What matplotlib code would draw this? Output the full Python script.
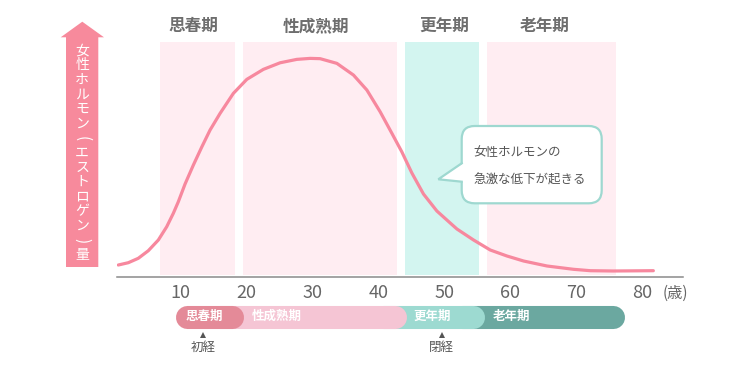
import matplotlib
matplotlib.use("Agg")
import matplotlib.pyplot as plt
from matplotlib.patches import FancyBboxPatch, Polygon
from matplotlib.transforms import blended_transform_factory

plt.rcParams['font.family'] = ['Noto Sans CJK JP', 'DejaVu Sans']

# ---------------- data ----------------
ages = [0.56, 2.08, 3.59, 5.11, 6.63, 7.90, 8.90, 9.66, 10.68, 11.94, 13.21,
        14.47, 15.99, 18.00, 20.04, 22.55, 25.09, 27.62, 29.64, 31.15, 33.69,
        36.21, 38.24, 40.25, 42.03, 43.55, 45.06, 46.82, 48.85, 50.87, 51.89,
        54.41, 56.94, 59.47, 61.99, 65.54, 69.57, 72.11, 75.60, 81.66]
hormone = [5.46, 6.51, 8.51, 11.97, 16.84, 22.89, 28.99, 34.27, 42.33, 50.98,
           59.17, 66.91, 74.51, 83.61, 89.99, 94.54, 97.54, 99.09, 99.54,
           99.41, 97.27, 91.94, 85.12, 75.24, 65.41, 56.90, 47.34, 37.78,
           30.04, 24.58, 21.85, 16.84, 12.29, 9.56, 7.28, 5.01, 3.50, 2.87,
           2.73, 2.87]

phases = ['思春期', '性成熟期', '更年期', '老年期']
band_start = [6.9, 19.4, 44.0, 56.5]
band_end = [18.3, 42.8, 55.3, 76.0]
band_colors = ['#ffedf2', '#ffedf2', '#d3f5f0', '#ffedf2']
header_x = [11.9, 30.5, 49.9, 65.2]

xticks = [10, 20, 30, 40, 50, 60, 70, 80]
xtick_labels = ['10', '20', '30', '40', '50', '60', '70', '80']

bar_start = 9.16
bar_end = [19.52, 44.2, 56.12, 77.23]
bar_colors = ['#e48a98', '#f5c5d4', '#9ddad1', '#6ba8a0']
bar_label_x = [13.56, 20.84, 45.26, 57.24]
bar_label_ha = ['center', 'left', 'left', 'left']

events = ['初経', '閉経']
event_age = [13.45, 49.6]

ylabel_text = '女性ホルモン(エストロゲン)量'
bubble_lines = ['女性ホルモンの', '急激な低下が起きる']

# ---------------- figure ----------------
W, H = 750, 374
fig = plt.figure(figsize=(W / 100, H / 100), dpi=100)

def fx(px):
    return px / W

def fy(py):
    return 1 - py / H

PINK = '#f7889e'
GRAY = '#6e6e6e'

ax = fig.add_axes([fx(117.3), fy(277), fx(683.3) - fx(117.3), fy(42) - fy(277)])
ax.set_xlim(0.41, 86.2)
ax.set_ylim(0, 107.0)

for s, e, c in zip(band_start, band_end, band_colors):
    ax.axvspan(s, e, ymin=0.009, ymax=1, color=c, lw=0, zorder=3)

ax.plot(ages, hormone, color=PINK, lw=2.3, solid_capstyle='round',
        solid_joinstyle='round', zorder=4)

for sp in ['top', 'left', 'right']:
    ax.spines[sp].set_visible(False)
ax.spines['bottom'].set_color('#8a8a8a')
ax.spines['bottom'].set_linewidth(1.1)
ax.set_yticks([])
ax.set_xticks(xticks)
ax.set_xticklabels(xtick_labels)
ax.tick_params(axis='x', which='major', length=0, pad=5, labelsize=13,
               labelcolor='#666666')
ax.set_xticks([10, 80], minor=True)
ax.tick_params(axis='x', which='minor', direction='in', length=6.5,
               width=0.8, color='#9a9a9a')

tr = blended_transform_factory(ax.transData, fig.transFigure)
for name, x in zip(phases, header_x):
    ax.text(x, fy(26), name, transform=tr, ha='center', va='center',
            fontsize=12, fontweight='bold', color=GRAY)

fig.text(fx(663), fy(293), '(歳)', ha='left', va='center', fontsize=11,
         color='#666666')

# ---------------- bottom phase bar ----------------
bx = fig.add_axes([fx(117.3), fy(362), fx(683.3) - fx(117.3), fy(300) - fy(362)])
bx.set_xlim(0.41, 86.2)
bx.set_ylim(362, 300)
bx.axis('off')
bx.patch.set_visible(False)

cap = 11.5 / 6.593
bar_y = 316.5
lefts = [bar_start] + [e - 3 * cap for e in bar_end[:-1]]
for i in reversed(range(len(bar_end))):
    l = lefts[i] + cap
    r = bar_end[i] - cap
    bx.plot([l, r], [bar_y, bar_y], color=bar_colors[i], lw=16.6,
            solid_capstyle='round', zorder=2 + (len(bar_end) - i))
for name, x, ha in zip(phases, bar_label_x, bar_label_ha):
    bx.text(x, bar_y, name, ha=ha, va='center', fontsize=9, fontweight='bold',
            color='white', zorder=10)
for name, x in zip(events, event_age):
    bx.plot([x], [335], marker='^', ms=5, color='#555555', mew=0, zorder=10)
    bx.text(x, 347.5, name, ha='center', va='center', fontsize=9,
            color='#555555')

# ---------------- overlay (arrow + bubble) ----------------
ov = fig.add_axes([0, 0, 1, 1])
ov.set_xlim(0, W)
ov.set_ylim(H, 0)
ov.axis('off')
ov.patch.set_visible(False)

arrow = Polygon([(66, 267), (66, 37.3), (60.7, 37.3), (82.3, 21.7),
                 (104, 37.3), (98.3, 37.3), (98.3, 267)],
                closed=True, fc='#f78a9c', ec='none')
ov.add_patch(arrow)
chars = list(ylabel_text)
for i, ch in enumerate(chars):
    if ch in '()':
        ov.text(82.2, 50.8 + i * 14.6, ch, ha='center', va='center',
                fontsize=11, color='white', rotation=-90,
                rotation_mode='anchor')
    else:
        ov.text(82.2, 50.8 + i * 14.6, ch, ha='center', va='center',
                fontsize=10, color='white')

TEAL = '#9ed8d0'
box = FancyBboxPatch((461.7, 126), 140, 77.3,
                     boxstyle='round,pad=0,rounding_size=13',
                     fc='white', ec=TEAL, lw=1.6, zorder=5)
ov.add_patch(box)
tail = Polygon([(463.5, 163.3), (438.3, 179.3), (463.5, 181.7)], closed=True,
               fc='white', ec='none', zorder=6)
ov.add_patch(tail)
ov.plot([461.7, 438.3, 461.7], [163.3, 179.3, 181.7], color=TEAL, lw=1.6,
        zorder=7, solid_joinstyle='miter')
ov.text(473, 152.7, bubble_lines[0], ha='left', va='center', fontsize=9,
        color='#555555', zorder=8)
ov.text(473, 180, bubble_lines[1], ha='left', va='center', fontsize=9,
        color='#555555', zorder=8)

fig.savefig('out.png', dpi=100)
